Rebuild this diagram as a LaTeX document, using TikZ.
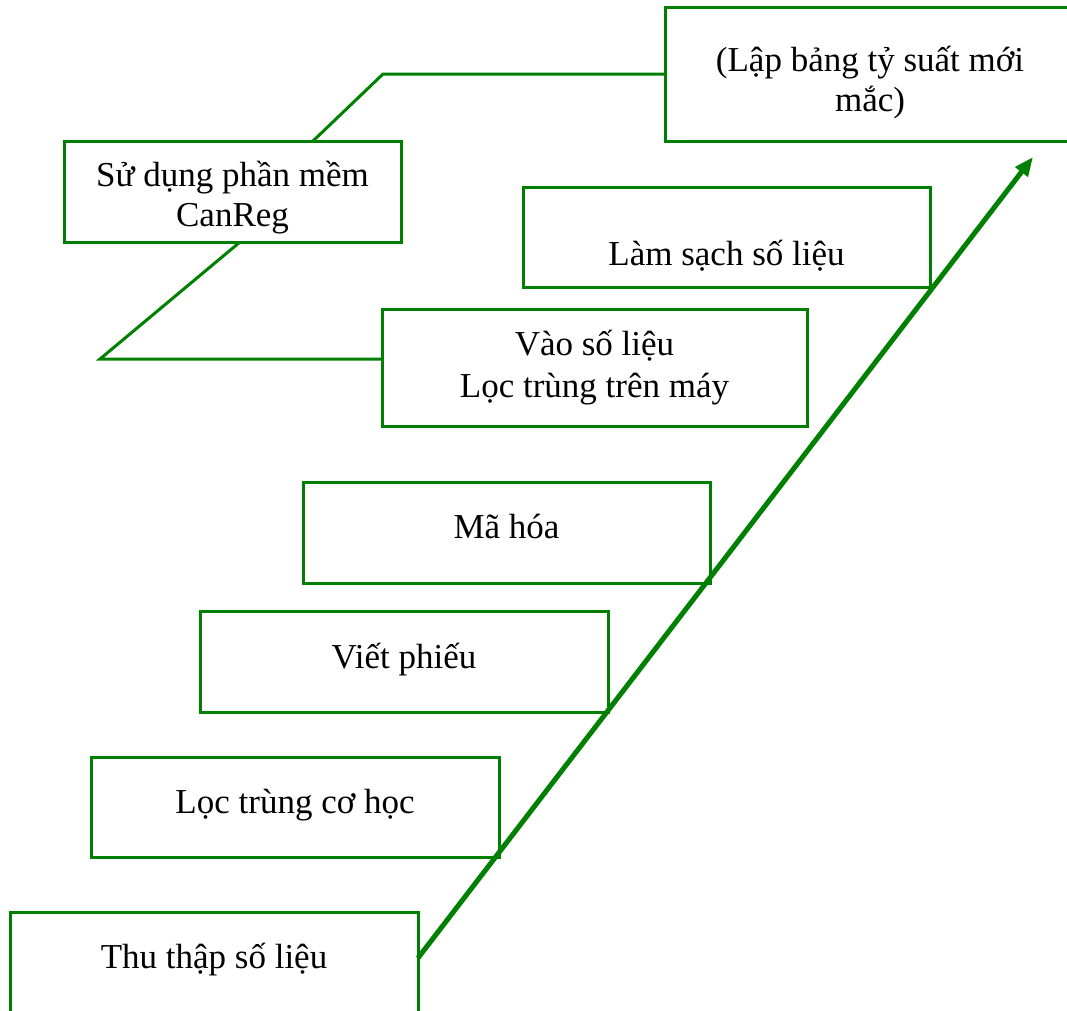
\documentclass[tikz,border=0pt]{standalone}
\usepackage{fontspec}
\setmainfont{Liberation Serif}
\usetikzlibrary{arrows.meta}
\definecolor{lg}{RGB}{0,128,0}
\tikzset{
  stepbox/.style={draw=lg, line width=3pt, fill=white, rectangle, inner sep=2pt, outer sep=0pt,
    font=\fontsize{35}{40}\selectfont, align=center},
  thinline/.style={draw=lg, line width=3pt},
  bigarrow/.style={draw=lg, line width=5pt, -{Triangle[length=19pt,width=15pt]}}
}
\begin{document}
\begin{tikzpicture}[x=1pt,y=-1pt]
\useasboundingbox (0,0) rectangle (1067,1010);
\clip (0,0) rectangle (1067,1010);
% boxes
\node[stepbox, minimum width=410, minimum height=134] (lap) at (870,74) {\rule{0pt}{42pt}(Lập bảng tỷ suất mới\\mắc)};
\node[stepbox, minimum width=337, minimum height=101] (canreg) at (232.5,191.5) {\rule{0pt}{38pt}Sử dụng phần mềm\\CanReg};
\node[stepbox, minimum width=407, minimum height=100, text height=65, text depth=8] (lam) at (726.5,237) {Làm sạch số liệu};
\node[stepbox, minimum width=425, minimum height=117, font=\fontsize{35}{42}\selectfont] (vao) at (594.5,367.5) {Vào số liệu\\Lọc trùng trên máy};
\node[stepbox, minimum width=407, minimum height=101, text height=19, text depth=8] (ma) at (506.5,532.5) {Mã hóa};
\node[stepbox, minimum width=408, minimum height=101, text height=21, text depth=8] (viet) at (404,661.5) {Viết phiếu};
\node[stepbox, minimum width=408, minimum height=100, text height=20, text depth=8] (loc) at (295,807) {Lọc trùng cơ học};
\node[stepbox, minimum width=408, minimum height=120, text height=24, text depth=32] (thu) at (214,972) {Thu thập số liệu};
% connectors
\coordinate (p1) at (100,359);
\coordinate (p2) at (383,74);
\coordinate (tip) at (1033,157);
\draw[thinline, line join=miter] ([yshift=8.5pt]vao.west) -- (p1) -- ([xshift=7.5pt]canreg.south);
\draw[thinline, line join=miter] ([xshift=80.5pt]canreg.north) -- (p2) -- (lap.west);
\draw[bigarrow] ([yshift=14pt]thu.east) -- (tip);
\end{tikzpicture}
\end{document}
